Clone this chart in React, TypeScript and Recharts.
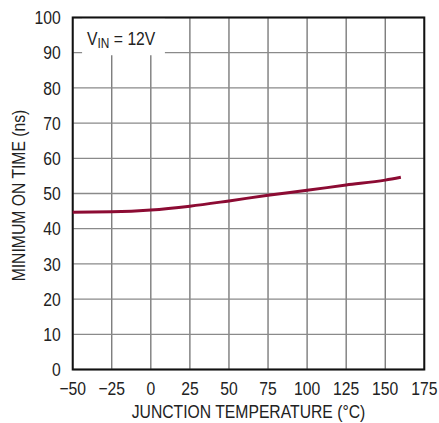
import { CartesianGrid, Line, LineChart, ReferenceArea, XAxis, YAxis } from 'recharts';

const TEMPS = [-50, -25, 0, 25, 50, 75, 100, 125, 150, 160];
const MIN_ON_TIME = [44.7, 44.8, 45.3, 46.4, 47.9, 49.5, 50.9, 52.4, 53.8, 54.6];
const X_TICKS = [-50, -25, 0, 25, 50, 75, 100, 125, 150, 175];
const Y_TICKS = [0, 10, 20, 30, 40, 50, 60, 70, 80, 90, 100];

const FONT = '"Liberation Sans", Arial, sans-serif';
const TEXT = '#222';
// no condensed face installed, so squeeze Liberation Sans horizontally
const SQUEEZE = 0.85;

const data = TEMPS.map((t, i) => ({ temp: t, ns: MIN_ON_TIME[i] }));

function fmtTick(v: number) {
  return v < 0 ? `\u2212${-v}` : `${v}`;
}

function XTick({ x, y, payload }: any) {
  return (
    <g transform={`translate(${x},${y + 10}) scale(${SQUEEZE},1)`}>
      <text x={0} y={0} dy="0.72em" textAnchor="middle" fontFamily={FONT} fontSize={18.5} fill={TEXT}>
        {fmtTick(payload.value)}
      </text>
    </g>
  );
}

function YTick({ x, y, payload }: any) {
  return (
    <g transform={`translate(${x - 10},${y}) scale(${SQUEEZE},1)`}>
      <text x={0} y={0} dy="0.36em" textAnchor="end" fontFamily={FONT} fontSize={18.5} fill={TEXT}>
        {fmtTick(payload.value)}
      </text>
    </g>
  );
}

function XTitle({ viewBox }: any) {
  const cx = viewBox.x + viewBox.width / 2;
  return (
    <g transform={`translate(${cx},418) scale(${SQUEEZE},1)`}>
      <text x={0} y={0} textAnchor="middle" fontFamily={FONT} fontSize={18.5} fill={TEXT}>
        JUNCTION TEMPERATURE (°C)
      </text>
    </g>
  );
}

function YTitle({ viewBox }: any) {
  const cy = viewBox.y + viewBox.height / 2 + 2;
  return (
    <g transform={`translate(25,${cy}) rotate(-90) scale(${SQUEEZE},1)`}>
      <text x={0} y={0} textAnchor="middle" fontFamily={FONT} fontSize={18.5} fill={TEXT}>
        MINIMUM ON TIME (ns)
      </text>
    </g>
  );
}

function VinLabel({ viewBox }: any) {
  return (
    <g transform={`translate(${viewBox.x + 5},${viewBox.y + 27}) scale(${SQUEEZE},1)`}>
      <text x={0} y={0} fontFamily={FONT} fontSize={18.5} fill={TEXT}>
        V
        <tspan fontSize={14} dy={3}>
          IN
        </tspan>
        <tspan dy={-3}> = 12V</tspan>
      </text>
    </g>
  );
}

export default function App() {
  return (
    <div style={{ position: 'absolute', left: 0, top: 0, background: '#fff' }}>
      <LineChart
        width={439}
        height={423}
        data={data}
        margin={{ top: 17.5, right: 14.7, bottom: 0, left: 0 }}
      >
        <CartesianGrid horizontal={false} stroke="#666" strokeWidth={1.2} />
        <CartesianGrid vertical={false} stroke="#8a8a8a" strokeWidth={1.3} />
        <XAxis
          type="number"
          dataKey="temp"
          domain={[-50, 175]}
          ticks={X_TICKS}
          height={53.5}
          axisLine={false}
          tickLine={false}
          tickSize={0}
          tick={<XTick />}
          label={<XTitle />}
        />
        <YAxis
          type="number"
          domain={[0, 100]}
          ticks={Y_TICKS}
          width={72.7}
          axisLine={false}
          tickLine={false}
          tickSize={0}
          tick={<YTick />}
          label={<YTitle />}
        />
        <ReferenceArea
          x1={-44}
          x2={9}
          y1={89.3}
          y2={100}
          fill="#fff"
          fillOpacity={1}
          stroke="none"
          label={<VinLabel />}
        />
        <Line
          type="monotone"
          dataKey="ns"
          stroke="#8c0b33"
          strokeWidth={3}
          dot={false}
          isAnimationActive={false}
        />
        <ReferenceArea
          x1={-50}
          x2={175}
          y1={0}
          y2={100}
          fill="none"
          stroke="#111"
          strokeWidth={2}
          ifOverflow="visible"
        />
      </LineChart>
    </div>
  );
}
